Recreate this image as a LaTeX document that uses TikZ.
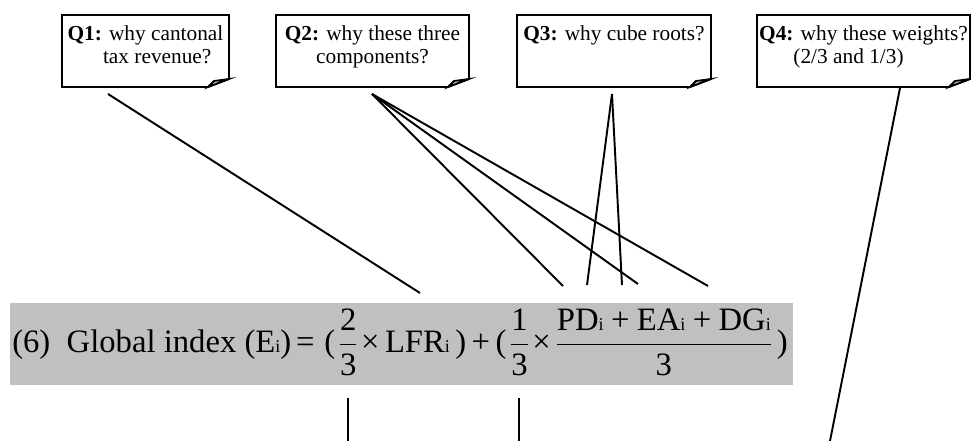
\documentclass[tikz,border=0pt]{standalone}
\usepackage{amsmath}
\usepackage{fontspec}
\setmainfont{Liberation Serif}
\usetikzlibrary{positioning}
\definecolor{boxgray}{RGB}{192,192,192}
\definecolor{foldgray}{RGB}{200,200,200}

% small index letter, set on the baseline
\newcommand{\idx}{{\fontsize{13.5}{13.5}\selectfont i}}
\newcommand{\pls}{\mathbin{\text{+}}}

% question card with a turned-down corner: name, left, right, text
\newcommand{\qbox}[4]{%
  \draw[qline, fill=white] (#2,15) -- (#3,15) -- (#3,79) -- ({#3-21},87) -- (#2,87) -- cycle;
  \draw[qline, fill=foldgray] (#3,79) -- ({#3-21},87) -- ({#3-15},81) -- cycle;
  \node[qtext, anchor=north] (#1) at ({(#2+#3)/2},25) {#4};
}

\begin{document}
\begin{tikzpicture}[
    x=0.75pt, y=-0.75pt,
    qline/.style={draw=black, line width=1.35pt, line join=miter},
    qtext/.style={align=center, inner sep=0pt, font=\fontsize{16}{17.5}\selectfont},
    link/.style={draw=black, line width=1.45pt},
    eqbox/.style={fill=boxgray, minimum width=587.25pt, minimum height=61.5pt, inner sep=0pt},
    eqtext/.style={inner sep=0pt, font=\fontsize{24.5}{28}\selectfont}
]
\useasboundingbox (0,0) rectangle (971,441);

% Question cards
\qbox{q1}{62}{229}{\textbf{Q1:} why cantonal\\\hspace*{1.1em}tax revenue?}
\qbox{q2}{276}{469}{\textbf{Q2:} why these three\\components?}
\qbox{q3}{517}{711}{\textbf{Q3:} why cube roots?}
\qbox{q4}{757}{970}{\textbf{Q4:} why these weights?\\(2/3 and 1/3)\hspace*{1.4em}}

% Formula, piece by piece on one baseline
\node[eqbox] (eq) at (401.5,344) {};
\node[eqtext, anchor=base west] (lhs) at (12,353) {(6)\hspace{0.5em}Global index (E\idx)\hspace{0.15em}=\hspace{0.3em}(};
\node[eqtext, base right=2pt of lhs] (fa) {$\dfrac{\text{2}}{\text{3}}$};
\node[eqtext, base right=2pt of fa] (mid) {×\,LFR\idx\,)\,+\,(};
\node[eqtext, base right=2pt of mid] (fb) {$\dfrac{\text{1}}{\text{3}}$};
\node[eqtext, base right=2pt of fb] (tm) {×};
\node[eqtext, base right=3pt of tm] (fc) {$\dfrac{\text{PD\idx} \pls \text{EA\idx} \pls \text{DG\idx}}{\text{3}}$};
\node[eqtext, base right=3pt of fc] (rp) {)};

% Connector ends
\coordinate (q1a) at (108,94);
\coordinate (q2a) at (372,94);
\coordinate (q3a) at (612,94);
\coordinate (q4a) at (900,88);
\coordinate (e1) at (420,293);
\coordinate (e2) at (563,286);
\coordinate (e3) at (638,284);
\coordinate (e4) at (708,286);
\coordinate (e5) at (587,285);
\coordinate (e6) at (622,285);
\coordinate (e7) at (830,441);
\coordinate (t1) at (fa.south |- 0,398);
\coordinate (t1b) at (fa.south |- 0,441);
\coordinate (t2) at (fb.south |- 0,398);
\coordinate (t2b) at (fb.south |- 0,441);

% Connectors
\draw[link] (q1a) -- (e1);
\foreach \e in {e2,e3,e4}
  \draw[link] (q2a) -- (\e);
\foreach \e in {e5,e6}
  \draw[link] (q3a) -- (\e);
\draw[link] (q4a) -- (e7);
\draw[link] (t1) -- (t1b);
\draw[link] (t2) -- (t2b);

\end{tikzpicture}
\end{document}
